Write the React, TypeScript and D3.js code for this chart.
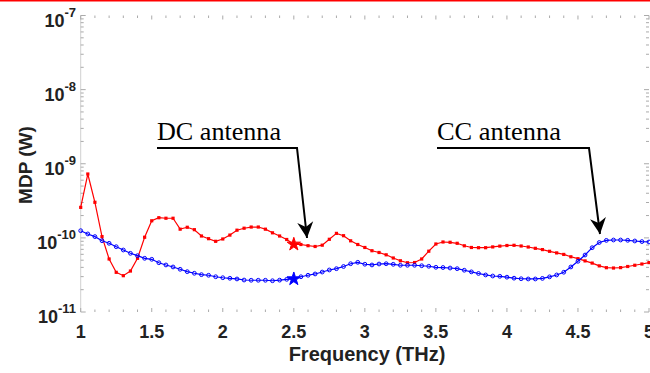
import React, { useEffect, useRef } from 'react';
import * as d3 from 'd3';

// frequency grid (THz)
const freq = [
  1.00, 1.05, 1.10, 1.15, 1.20, 1.25, 1.30, 1.35, 1.40, 1.45,
  1.50, 1.55, 1.60, 1.65, 1.70, 1.75, 1.80, 1.85, 1.90, 1.95,
  2.00, 2.05, 2.10, 2.15, 2.20, 2.25, 2.30, 2.35, 2.40, 2.45,
  2.50, 2.55, 2.60, 2.65, 2.70, 2.75, 2.80, 2.85, 2.90, 2.95,
  3.00, 3.05, 3.10, 3.15, 3.20, 3.25, 3.30, 3.35, 3.40, 3.45,
  3.50, 3.55, 3.60, 3.65, 3.70, 3.75, 3.80, 3.85, 3.90, 3.95,
  4.00, 4.05, 4.10, 4.15, 4.20, 4.25, 4.30, 4.35, 4.40, 4.45,
  4.50, 4.55, 4.60, 4.65, 4.70, 4.75, 4.80, 4.85, 4.90, 4.95,
  5.00,
];

// MDP of the DC antenna (W)
const dcAntenna = [
  2.58e-10, 7.27e-10, 3.02e-10, 1.04e-10, 5.19e-11, 3.43e-11, 3.09e-11, 3.57e-11, 5.30e-11, 1.02e-10,
  1.70e-10, 1.87e-10, 1.84e-10, 1.84e-10, 1.31e-10, 1.39e-10, 1.29e-10, 1.06e-10, 9.75e-11, 8.99e-11,
  9.66e-11, 1.09e-10, 1.27e-10, 1.35e-10, 1.40e-10, 1.40e-10, 1.31e-10, 1.17e-10, 1.06e-10, 9.51e-11,
  8.19e-11, 8.14e-11, 7.84e-11, 7.65e-11, 7.97e-11, 9.57e-11, 1.15e-10, 1.07e-10, 9.13e-11, 8.14e-11,
  7.42e-11, 6.71e-11, 6.35e-11, 5.91e-11, 5.35e-11, 4.91e-11, 4.62e-11, 4.65e-11, 5.19e-11, 6.61e-11,
  8.27e-11, 8.80e-11, 8.72e-11, 8.45e-11, 7.82e-11, 7.42e-11, 7.37e-11, 7.37e-11, 7.55e-11, 7.74e-11,
  7.89e-11, 7.94e-11, 7.77e-11, 7.53e-11, 7.23e-11, 6.95e-11, 6.59e-11, 6.27e-11, 5.98e-11, 5.56e-11,
  5.24e-11, 4.89e-11, 4.57e-11, 4.19e-11, 3.96e-11, 3.92e-11, 3.97e-11, 4.11e-11, 4.27e-11, 4.44e-11,
  4.64e-11,
];

// MDP of the CC antenna (W)
const ccAntenna = [
  1.25e-10, 1.13e-10, 1.04e-10, 9.16e-11, 8.45e-11, 7.60e-11, 6.86e-11, 6.19e-11, 5.75e-11, 5.30e-11,
  5.14e-11, 4.62e-11, 4.31e-11, 4.05e-11, 3.77e-11, 3.50e-11, 3.33e-11, 3.19e-11, 3.13e-11, 2.99e-11,
  2.90e-11, 2.85e-11, 2.79e-11, 2.70e-11, 2.68e-11, 2.68e-11, 2.68e-11, 2.64e-11, 2.69e-11, 2.76e-11,
  2.79e-11, 2.99e-11, 3.13e-11, 3.26e-11, 3.46e-11, 3.69e-11, 3.84e-11, 4.11e-11, 4.48e-11, 4.68e-11,
  4.41e-11, 4.31e-11, 4.44e-11, 4.48e-11, 4.40e-11, 4.27e-11, 4.27e-11, 4.27e-11, 4.21e-11, 4.14e-11,
  4.01e-11, 3.98e-11, 3.92e-11, 3.84e-11, 3.66e-11, 3.48e-11, 3.31e-11, 3.16e-11, 3.06e-11, 3.03e-11,
  2.95e-11, 2.86e-11, 2.81e-11, 2.79e-11, 2.79e-11, 2.84e-11, 2.98e-11, 3.16e-11, 3.44e-11, 4.05e-11,
  4.83e-11, 5.87e-11, 7.37e-11, 8.66e-11, 9.25e-11, 9.36e-11, 9.36e-11, 9.27e-11, 9.08e-11, 8.91e-11,
  8.80e-11,
];

const xTicks = [1, 1.5, 2, 2.5, 3, 3.5, 4, 4.5, 5];
const xTickLabels = ['1', '1.5', '2', '2.5', '3', '3.5', '4', '4.5', '5'];
const yDecades = [1e-11, 1e-10, 1e-9, 1e-8, 1e-7];
const yDecadeExponents = ['-11', '-10', '-9', '-8', '-7'];
const highlightFreq = 2.5;
const annotationLabels = ['DC antenna', 'CC antenna'];

const App = () => {
  const svgRef = useRef<SVGSVGElement>(null);

  useEffect(() => {
    const width = 650;
    const height = 373;
    const left = 80.7, right = 649, top = 15.5, bottom = 312;

    const x = d3.scaleLinear().domain([1, 5]).range([left, right]);
    const y = d3.scaleLog().domain([1e-11, 1e-7]).range([bottom, top]);

    const svg = d3.select(svgRef.current);
    svg.selectAll('*').remove();
    svg.attr('width', width).attr('height', height);

    const sans = "Arial, 'Liberation Sans', sans-serif";
    const serif = "'Times New Roman', 'Liberation Serif', serif";

    // red strip along the very top
    svg.append('rect').attr('x', 0).attr('y', 0).attr('width', width).attr('height', 1.5).attr('fill', '#ff0000');

    // axes: ticks on all four sides, faint gray
    const tickColor = '#aaa';
    const axes = svg.append('g');
    axes.append('line')
      .attr('x1', left).attr('x2', left).attr('y1', top).attr('y2', bottom)
      .attr('stroke', '#d0d0d0').attr('stroke-width', 1);

    const xMinor = d3.range(10, 51).map(d => d / 10);
    xMinor.forEach(v => {
      const major = Math.abs(v * 2 - Math.round(v * 2)) < 1e-6;
      const len = major ? 4 : 2.5;
      axes.append('line').attr('x1', x(v)).attr('x2', x(v)).attr('y1', bottom).attr('y2', bottom - len)
        .attr('stroke', tickColor).attr('stroke-width', 1);
      axes.append('line').attr('x1', x(v)).attr('x2', x(v)).attr('y1', top).attr('y2', top + len)
        .attr('stroke', tickColor).attr('stroke-width', 1);
    });

    const yMinor: number[] = [];
    yDecades.slice(0, -1).forEach(d => { for (let k = 2; k <= 9; k++) yMinor.push(d * k); });
    yMinor.forEach(v => {
      axes.append('line').attr('x1', left).attr('x2', left + 3).attr('y1', y(v)).attr('y2', y(v))
        .attr('stroke', tickColor).attr('stroke-width', 1);
      axes.append('line').attr('x1', right).attr('x2', right - 3).attr('y1', y(v)).attr('y2', y(v))
        .attr('stroke', tickColor).attr('stroke-width', 1);
    });
    yDecades.forEach(v => {
      axes.append('line').attr('x1', left).attr('x2', left + 5).attr('y1', y(v)).attr('y2', y(v))
        .attr('stroke', tickColor).attr('stroke-width', 1);
      axes.append('line').attr('x1', right).attr('x2', right - 5).attr('y1', y(v)).attr('y2', y(v))
        .attr('stroke', tickColor).attr('stroke-width', 1);
    });

    // tick labels
    svg.append('g').selectAll('text').data(xTicks).enter().append('text')
      .attr('x', d => x(d)).attr('y', 338)
      .attr('text-anchor', 'middle')
      .attr('font-family', sans).attr('font-weight', 'bold').attr('font-size', 18).attr('fill', '#222')
      .text((d, i) => xTickLabels[i]);

    const yLab = svg.append('g').selectAll('text').data(yDecades).enter().append('text')
      .attr('x', 76).attr('y', d => y(d) + 11)
      .attr('text-anchor', 'end')
      .attr('font-family', sans).attr('font-weight', 'bold').attr('font-size', 18).attr('fill', '#222');
    yLab.append('tspan').text('10');
    yLab.append('tspan').attr('dy', -10).attr('font-size', 13).text((d, i) => yDecadeExponents[i]);

    // axis titles
    svg.append('text')
      .attr('x', 367).attr('y', 361).attr('text-anchor', 'middle')
      .attr('font-family', sans).attr('font-weight', 'bold').attr('font-size', 20).attr('fill', '#222')
      .text('Frequency (THz)');
    svg.append('text')
      .attr('transform', 'translate(32,165) rotate(-90)').attr('text-anchor', 'middle')
      .attr('font-family', sans).attr('font-weight', 'bold').attr('font-size', 19).attr('fill', '#222')
      .text('MDP (W)');

    // series
    const line = d3.line<number>().x((d, i) => x(freq[i])).y(d => y(d));
    const hi = freq.findIndex(f => Math.abs(f - highlightFreq) < 1e-9);

    const drawSeries = (values: number[], color: string, marker: 'square' | 'circle') => {
      const g = svg.append('g');
      g.append('path').datum(values).attr('d', line)
        .attr('fill', 'none').attr('stroke', color).attr('stroke-width', 1.2);
      if (marker === 'square') {
        g.selectAll('rect').data(values).enter().append('rect')
          .attr('x', (d, i) => x(freq[i]) - 1.6).attr('y', d => y(d) - 1.6)
          .attr('width', 3.2).attr('height', 3.2).attr('fill', color);
      } else {
        g.selectAll('circle').data(values).enter().append('circle')
          .attr('cx', (d, i) => x(freq[i])).attr('cy', d => y(d)).attr('r', 1.9)
          .attr('fill', 'none').attr('stroke', color).attr('stroke-width', 1);
      }
      g.append('path')
        .attr('d', d3.symbol(d3.symbolStar, 55)())
        .attr('transform', `translate(${x(freq[hi])},${y(values[hi])})`)
        .attr('fill', color).attr('stroke', color).attr('stroke-width', 1);
    };
    drawSeries(dcAntenna, '#ff0000', 'square');
    drawSeries(ccAntenna, '#0000ff', 'circle');

    // annotations with bent arrows
    const drawArrow = (label: string, tx: number, bendX: number, tip: [number, number]) => {
      const g = svg.append('g');
      g.append('text').attr('x', tx).attr('y', 140)
        .attr('font-family', serif).attr('font-size', 25).attr('fill', '#000')
        .attr('textLength', 124).attr('lengthAdjust', 'spacingAndGlyphs')
        .text(label);
      const uy = 148;
      g.append('path')
        .attr('d', `M${tx},${uy}L${bendX},${uy}L${tip[0]},${tip[1]}`)
        .attr('fill', 'none').attr('stroke', '#000').attr('stroke-width', 2);
      const ang = Math.atan2(tip[1] - uy, tip[0] - bendX);
      const len = 16, half = 8, back = 11;
      const ux = Math.cos(ang), uyy = Math.sin(ang);
      const px = -uyy, py = ux;
      const bx = tip[0] - ux * len, by = tip[1] - uyy * len;
      const nx = tip[0] - ux * back, ny = tip[1] - uyy * back;
      g.append('path')
        .attr('d', `M${tip[0]},${tip[1]}L${bx + px * half},${by + py * half}L${nx},${ny}L${bx - px * half},${by - py * half}Z`)
        .attr('fill', '#000');
    };
    drawArrow(annotationLabels[0], 157, 297, [307, 238]);
    drawArrow(annotationLabels[1], 437, 589, [600, 234]);
  }, []);

  return (
    <svg ref={svgRef} style={{ position: 'absolute', left: 0, top: 0, background: '#fff' }}></svg>
  );
};

export default App;
